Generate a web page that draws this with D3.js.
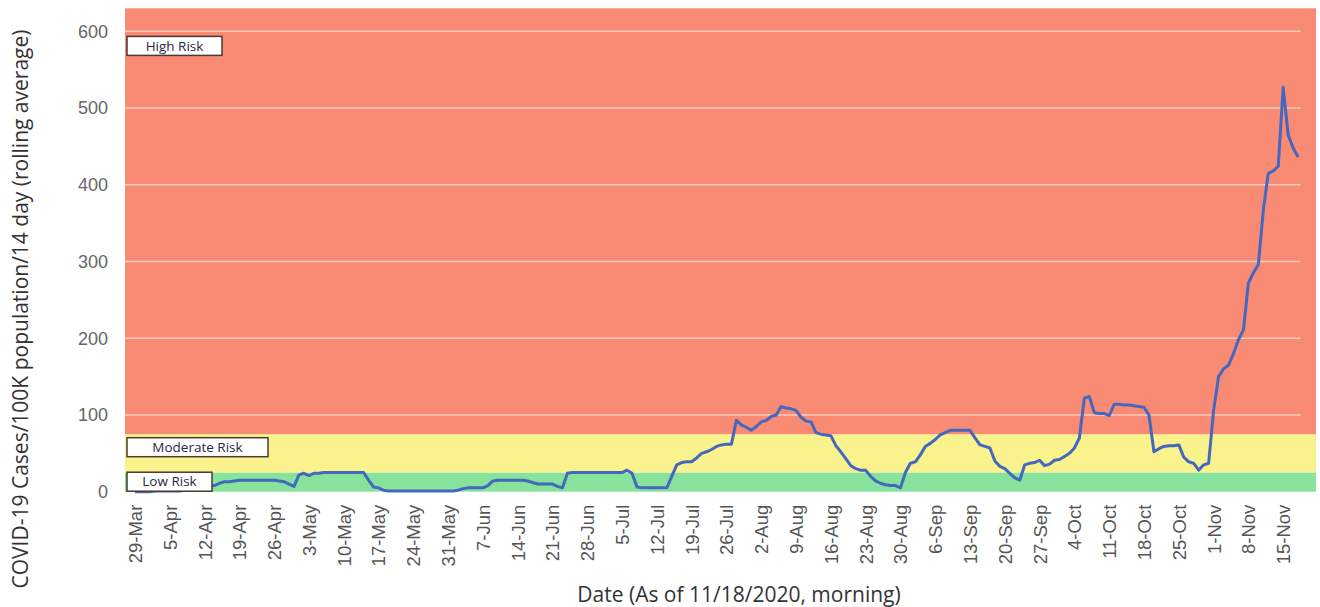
<!DOCTYPE html>
<html>
<head>
<meta charset="utf-8">
<script src="https://cdn.jsdelivr.net/npm/d3@7"></script>
<style>
  body { margin: 0; background: #fff; }
  svg { display: block; font-family: "Open Sans", "Noto Sans", sans-serif; }
</style>
</head>
<body>
<svg id="chart" width="1320" height="607"></svg>
<script>
// 14 day rolling case rate per 100K, one value per day from 29-Mar to 18-Nov 2020
const caseRate = [
  0, 0, 0, 0, 1, 1, 1, 1, 1, 1,
  2, 5, 6, 6, 6, 7, 8, 11, 13, 13,
  14, 15, 15, 15, 15, 15, 15, 15, 15, 14,
  13, 10, 7, 22, 24, 21, 24, 24, 25, 25,
  25, 25, 25, 25, 25, 25, 25, 15, 6, 5,
  2, 1, 1, 1, 1, 1, 1, 1, 1, 1,
  1, 1, 1, 1, 1, 2, 4, 5, 5, 5,
  5, 8, 14, 15, 15, 15, 15, 15, 15, 14,
  12, 10, 10, 10, 10, 7, 5, 24, 25, 25,
  25, 25, 25, 25, 25, 25, 25, 25, 25, 28,
  24, 6, 5, 5, 5, 5, 5, 5, 20, 35,
  38, 39, 39, 44, 50, 52, 55, 59, 61, 62,
  62, 93, 87, 84, 80, 85, 91, 93, 98, 100,
  111, 109, 108, 106, 97, 92, 91, 77, 75, 74,
  73, 60, 52, 43, 34, 30, 28, 28, 20, 14,
  11, 9, 8, 8, 5, 25, 37, 39, 48, 59,
  63, 68, 74, 77, 80, 80, 80, 80, 80, 70,
  61, 59, 57, 40, 33, 30, 24, 18, 15, 35,
  37, 38, 41, 34, 36, 41, 42, 46, 50, 57,
  70, 122, 124, 103, 102, 102, 99, 114, 114, 113,
  113, 112, 111, 110, 100, 52, 56, 59, 60, 60,
  61, 45, 39, 37, 28, 35, 37, 106, 150, 160,
  165, 180, 198, 211, 272, 285, 296, 367, 415, 418,
  424, 527, 465, 448, 436
];

// weekly labels on the date axis (every 7th day)
const tickLabels = [
  "29-Mar", "5-Apr", "12-Apr", "19-Apr", "26-Apr", "3-May", "10-May", "17-May",
  "24-May", "31-May", "7-Jun", "14-Jun", "21-Jun", "28-Jun", "5-Jul", "12-Jul",
  "19-Jul", "26-Jul", "2-Aug", "9-Aug", "16-Aug", "23-Aug", "30-Aug", "6-Sep",
  "13-Sep", "20-Sep", "27-Sep", "4-Oct", "11-Oct", "18-Oct", "25-Oct", "1-Nov",
  "8-Nov", "15-Nov"
];

const yTicks = [0, 100, 200, 300, 400, 500, 600];

// risk zones: names and their limits on the case rate
const riskNames = ["Low Risk", "Moderate Risk", "High Risk"];
const riskLimits = [0, 25, 75, 630];
// where each zone's label sits (case rate value at the box centre)
const riskLabelAt = [13, 58, 581];

const zoneColors = ["#87e39b", "#faf28c", "#f98a73"];
const boxWidths = [85, 141, 95];

const svg = d3.select("#chart");

const plotLeft = 125, plotRight = 1316, plotTop = 8.3, plotBottom = 491.7;

const x = d3.scaleLinear().domain([-2, 237.6]).range([plotLeft, plotRight]);
const y = d3.scaleLinear().domain([0, 630]).range([plotBottom, plotTop]);

// zone backgrounds
svg.append("g").selectAll("rect")
  .data(riskNames)
  .enter()
  .append("rect")
  .attr("x", plotLeft)
  .attr("width", plotRight - plotLeft)
  .attr("y", (d, i) => y(riskLimits[i + 1]))
  .attr("height", (d, i) => y(riskLimits[i]) - y(riskLimits[i + 1]))
  .attr("fill", (d, i) => zoneColors[i]);

// gridlines only across the high risk zone
svg.append("g").selectAll("line")
  .data(yTicks.filter(t => t > 0))
  .enter()
  .append("line")
  .attr("x1", plotLeft)
  .attr("x2", x(234.5))
  .attr("y1", d => y(d))
  .attr("y2", d => y(d))
  .attr("stroke", "#ffffff")
  .attr("stroke-opacity", 0.55)
  .attr("stroke-width", 1.5);

// y axis labels
const yAxis = svg.append("g")
  .attr("transform", "translate(" + plotLeft + ",0)")
  .call(d3.axisLeft(y).tickValues(yTicks).tickSize(0).tickPadding(17));
yAxis.select(".domain").remove();
yAxis.selectAll("text")
  .attr("fill", "#666666")
  .style("font-size", "18px");

// x axis labels, rotated
const xAxis = svg.append("g")
  .attr("transform", "translate(0," + plotBottom + ")")
  .call(d3.axisBottom(x)
    .tickValues(tickLabels.map((d, i) => i * 7))
    .tickFormat((d, i) => tickLabels[i])
    .tickSize(0));
xAxis.select(".domain").remove();
xAxis.selectAll("text")
  .attr("fill", "#555555")
  .style("font-size", "18.5px")
  .attr("text-anchor", "end")
  .attr("transform", "rotate(-90)")
  .attr("x", -13)
  .attr("y", 0)
  .attr("dy", "0.35em");

// the rolling average line
const line = d3.line()
  .x((d, i) => x(i))
  .y(d => y(d));

svg.append("path")
  .datum(caseRate)
  .attr("d", line)
  .attr("fill", "none")
  .attr("stroke", "#4467bf")
  .attr("stroke-width", 3)
  .attr("stroke-linejoin", "round");

// zone label boxes
const labels = svg.append("g").selectAll("g")
  .data(riskNames)
  .enter()
  .append("g")
  .attr("transform", (d, i) => "translate(" + (plotLeft + 2) + "," + y(riskLabelAt[i]) + ")");

labels.append("rect")
  .attr("x", 0)
  .attr("y", -9.5)
  .attr("width", (d, i) => boxWidths[i])
  .attr("height", 19)
  .attr("fill", "#ffffff")
  .attr("stroke", "#4a3a33")
  .attr("stroke-width", 1.5);

labels.append("text")
  .attr("x", (d, i) => boxWidths[i] / 2)
  .attr("y", 0)
  .attr("dy", "0.35em")
  .attr("text-anchor", "middle")
  .attr("fill", "#1f2844")
  .style("font-size", "13.5px")
  .text(d => d);

// axis titles
svg.append("text")
  .attr("transform", "translate(28,309) rotate(-90)")
  .attr("text-anchor", "middle")
  .attr("fill", "#333333")
  .style("font-size", "21px")
  .text("COVID-19 Cases/100K population/14 day (rolling average)");

svg.append("text")
  .attr("x", 739)
  .attr("y", 602)
  .attr("text-anchor", "middle")
  .attr("fill", "#333333")
  .style("font-size", "21px")
  .text("Date (As of 11/18/2020, morning)");
</script>
</body>
</html>
